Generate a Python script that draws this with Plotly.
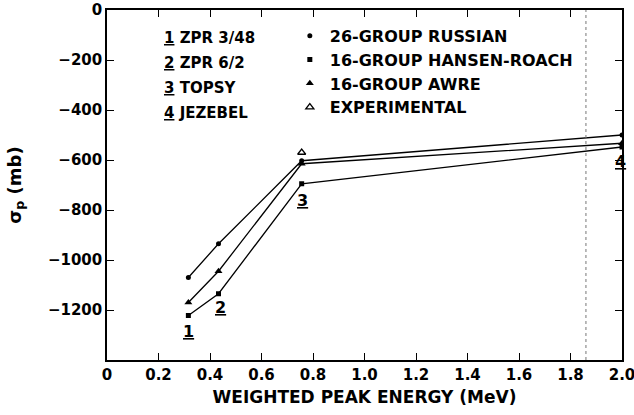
import plotly.graph_objects as go

# weighted peak energy of each assembly (MeV)
energy = [0.316, 0.433, 0.756, 2.0]
assemblies = ["ZPR 3/48", "ZPR 6/2", "TOPSY", "JEZEBEL"]

russian_26 = [-1070, -935, -603, -500]
awre_16 = [-1170, -1045, -615, -533]
hansen_roach_16 = [-1222, -1135, -695, -548]

exp_energy = [0.756]
experimental = [-570]

# assembly label positions (underlined numbers beside the curves)
label_x = [0.315, 0.44, 0.76, 1.995]
label_y = [-1285, -1190, -760, -605]

x_ticks = [0, 0.2, 0.4, 0.6, 0.8, 1.0, 1.2, 1.4, 1.6, 1.8, 2.0]
x_ticktext = ["0", "0.2", "0.4", "0.6", "0.8", "1.0", "1.2", "1.4", "1.6", "1.8", "2.0"]
y_ticks = [0, -200, -400, -600, -800, -1000, -1200]
y_ticktext = ["0", "−200", "−400", "−600", "−800", "−1000", "−1200"]

FONT = "DejaVu Sans"

fig = go.Figure()

series = [
    ("26-GROUP RUSSIAN", russian_26, "circle", 5),
    ("16-GROUP HANSEN-ROACH", hansen_roach_16, "square", 5),
    ("16-GROUP AWRE", awre_16, "triangle-up", 7),
]

for name, vals, sym, size in series:
    fig.add_trace(go.Scatter(
        x=energy, y=vals, mode="lines+markers",
        line=dict(color="black", width=1.3),
        marker=dict(symbol=sym, size=size, color="black"),
        showlegend=False,
    ))

# legend entries (markers only, like the original key)
for name, vals, sym, size in series:
    fig.add_trace(go.Scatter(
        x=[None], y=[None], mode="markers", name=name,
        marker=dict(symbol=sym, size=size, color="black"),
    ))

fig.add_trace(go.Scatter(
    x=exp_energy, y=experimental, mode="markers", name="EXPERIMENTAL",
    marker=dict(symbol="triangle-up-open", size=7, color="black",
                line=dict(width=1.3, color="black")),
))

# faint dotted line near 1.86 MeV
fig.add_shape(type="line", x0=1.86, x1=1.86, y0=-1400, y1=0,
              line=dict(color="#777", width=1, dash="dot"))

# key for the assemblies
key_y = [-110, -210, -310, -410]
for i, (name, ky) in enumerate(zip(assemblies, key_y)):
    fig.add_annotation(
        x=0.215, y=ky, xanchor="left", yanchor="middle", showarrow=False,
        text="<u>%d</u> %s" % (i + 1, name),
        font=dict(family=FONT, size=15, color="black", weight="bold"),
    )

# numbers on the curves
for i, (lx, ly) in enumerate(zip(label_x, label_y)):
    fig.add_annotation(
        x=lx, y=ly, showarrow=False, text="<u>%d</u>" % (i + 1),
        font=dict(family=FONT, size=16, color="black", weight="bold"),
    )

fig.update_layout(
    width=634, height=415,
    margin=dict(l=107, r=12, t=10, b=55, autoexpand=False),
    paper_bgcolor="white", plot_bgcolor="white",
    font=dict(family=FONT, size=15, color="black", weight="bold"),
    legend=dict(
        x=0.355, y=0.975, xanchor="left", yanchor="top",
        bgcolor="rgba(0,0,0,0)", font=dict(family=FONT, size=16, weight="bold"),
        itemwidth=30, tracegroupgap=0,
    ),
    xaxis=dict(
        range=[0, 2.0], tickvals=x_ticks, ticktext=x_ticktext,
        ticks="inside", ticklen=7, tickcolor="black", mirror="ticks",
        showline=True, linecolor="black", linewidth=1.5,
        showgrid=False, zeroline=False, ticklabeloverflow="allow",
        tickfont=dict(family=FONT, size=15, weight="bold"),
        title=dict(text="WEIGHTED PEAK ENERGY (MeV)", standoff=8,
                   font=dict(family=FONT, size=17, weight="bold")),
    ),
    yaxis=dict(
        range=[-1400, 0], tickvals=y_ticks, ticktext=y_ticktext,
        ticks="inside", ticklen=7, tickcolor="black", mirror="ticks",
        showline=True, linecolor="black", linewidth=1.5,
        showgrid=False, zeroline=False,
        tickfont=dict(family=FONT, size=15, weight="bold"),
        title=dict(text="σ<sub>p</sub> (mb)", standoff=22,
                   font=dict(family=FONT, size=18, weight="bold")),
    ),
)

fig.write_html("out.html", config={"displayModeBar": False},
               post_script="document.body.style.margin='0';")
